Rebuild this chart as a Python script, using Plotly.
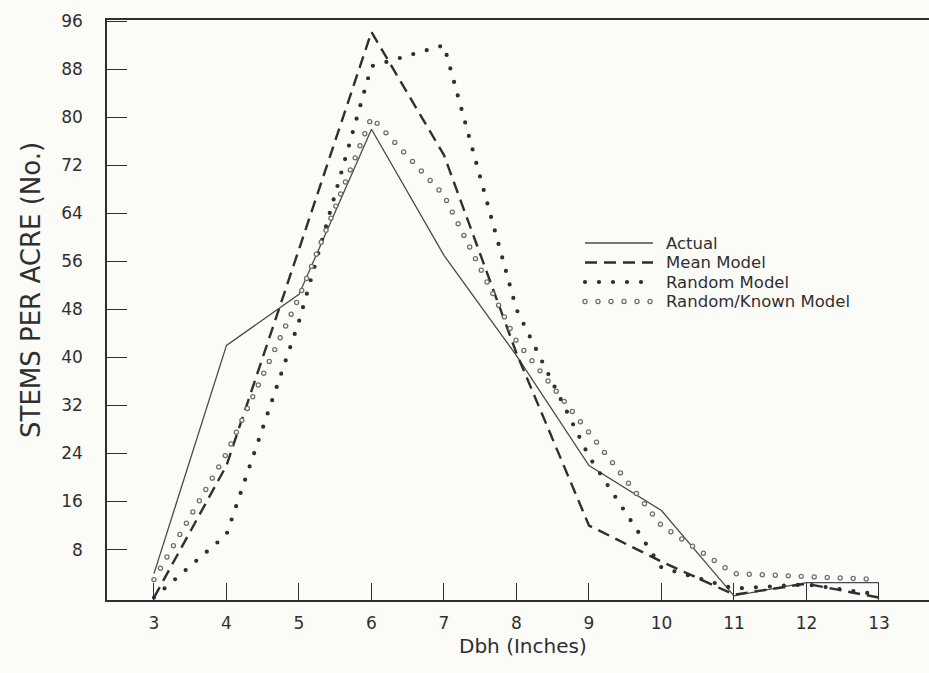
import plotly.graph_objects as go

# Diameter classes (inches) and stems per acre for each series
dbh = [3, 4, 5, 6, 7, 8, 9, 10, 11, 12, 13]
actual = [4, 42, 50.5, 78, 57, 40.3, 22, 14.5, 0.3, 2.5, 2.5]
mean_model = [0, 22, 58, 94.2, 73.7, 40.7, 12, 6, 0.5, 2.3, 0]
random_model = [0, 10.5, 46, 88.5, 92, 48, 23.5, 5, 1.5, 2.2, 0.5]
random_known = [3, 24, 50, 80, 67, 42.7, 27.5, 12, 4, 3.5, 3]

series_names = ["Actual", "Mean Model", "Random Model", "Random/Known Model"]
y_ticks = [8, 16, 24, 32, 40, 48, 56, 64, 72, 80, 88, 96]

W, H = 929, 673
L, R, T, B = 107, 0, 20, 73
BG = "#fbfbf8"
INK = "#2f2f2f"
FONT = "DejaVu Sans, Verdana, sans-serif"

styles = [
    dict(color="#4a4a4a", width=1.3, dash="solid"),
    dict(color=INK, width=2.4, dash="12px,7px"),
    dict(color=INK, width=4.2, dash="0px,14px"),
    dict(color="rgb(110,110,110)", width=5.4, dash="0px,13px"),
]
values = [actual, mean_model, random_model, random_known]


def px_x(px):
    return (px - L) / (W - L - R)


def px_y(py):
    return (H - B - py) / (H - T - B)


fig = go.Figure()
for name, vals, st in zip(series_names, values, styles):
    fig.add_trace(go.Scatter(x=dbh, y=vals, mode="lines", name=name,
                             line=st, showlegend=False, hoverinfo="skip"))

# Key in the right half of the plot: a line sample and a label per series
key_x0, key_x1, key_text_x = 585, 653, 664
key_rows = [243, 262.5, 282, 301.5]
annotations = []
shapes = []
for name, st, row in zip(series_names, styles, key_rows):
    shapes.append(dict(type="line", xref="paper", yref="paper",
                       x0=px_x(key_x0), x1=px_x(key_x1),
                       y0=px_y(row), y1=px_y(row), line=st))
    annotations.append(dict(text=name, xref="paper", yref="paper",
                            x=px_x(key_text_x), y=px_y(row),
                            xanchor="left", yanchor="middle", showarrow=False,
                            font=dict(size=16.5, color=INK, family=FONT)))

annotations.append(dict(text="STEMS PER ACRE (No.)", xref="paper", yref="paper",
                        x=px_x(31), y=px_y(290), textangle=-90,
                        xanchor="center", yanchor="middle", showarrow=False,
                        font=dict(size=26, color=INK, family=FONT)))
annotations.append(dict(text="Dbh (Inches)", xref="paper", yref="paper",
                        x=px_x(523), y=px_y(646),
                        xanchor="center", yanchor="middle", showarrow=False,
                        font=dict(size=20, color=INK, family=FONT)))

fig.update_layout(
    width=W, height=H,
    margin=dict(l=L, r=R, t=T, b=B, pad=0),
    paper_bgcolor=BG, plot_bgcolor=BG,
    showlegend=False,
    font=dict(family=FONT, color=INK),
    shapes=shapes,
    annotations=annotations,
    xaxis=dict(range=[2.352, 13.69], tickvals=dbh, ticks="inside",
               ticklen=17, tickwidth=1.3, tickcolor=INK,
               showline=True, linewidth=2.2, linecolor=INK, mirror=True,
               showgrid=False, zeroline=False, ticklabelstandoff=6,
               tickfont=dict(size=17, color=INK, family=FONT)),
    yaxis=dict(range=[-0.4, 96.2], tickvals=y_ticks, ticks="inside",
               ticklen=20, tickwidth=1.3, tickcolor=INK,
               showline=True, linewidth=1.5, linecolor=INK, mirror=False,
               showgrid=False, zeroline=False, ticklabelstandoff=19,
               tickfont=dict(size=17, color=INK, family=FONT)),
)

# Round caps turn zero-length dashes into dots; the grey dotted series gets
# a background-coloured copy on top so each dot becomes a small ring.
post = """
var gd = document.getElementById('{plot_id}');
var bg = 'rgb(251, 251, 248)';
gd.querySelectorAll('path').forEach(function(p){
  var da = (p.style.strokeDasharray || '').replace(/\\s/g, '');
  if (da.indexOf('0px,') === 0) {
    p.style.strokeLinecap = 'round';
    if (p.style.stroke.replace(/\\s/g, '') === 'rgb(110,110,110)') {
      var c = p.cloneNode(true);
      c.style.stroke = bg;
      c.style.strokeWidth = '2.9px';
      p.parentNode.insertBefore(c, p.nextSibling);
    }
  }
});
"""

fig.write_html("out.html", post_script=post)
